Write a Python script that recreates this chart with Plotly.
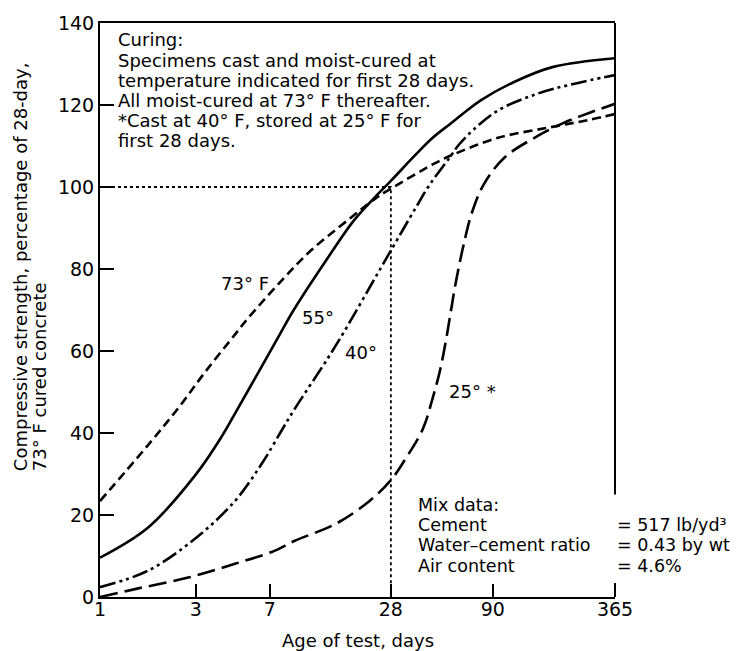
import plotly.graph_objects as go

# ---- data ----
days_73 = [1, 1.73, 2.49, 3.35, 4.69, 5.24, 7.94, 11.2, 17.7, 23.6, 28, 45.2, 54.6, 95.7, 171, 273, 365]
pct_73 = [23.4, 37, 46.5, 55, 64, 67, 77, 84.5, 92.5, 97.3, 99.6, 105.5, 107.5, 112, 114.5, 116.4, 117.8]

days_55 = [1, 1.73, 3, 4.05, 4.84, 6.34, 7.77, 9.2, 13.5, 18.3, 23.1, 28, 37.4, 45.2, 54.6, 65.6, 78.7, 117, 180, 365]
pct_55 = [9.6, 16.9, 29.9, 39.3, 45.9, 56, 63.7, 70, 82.5, 91.8, 97.3, 101.5, 108, 112, 115.2, 118.3, 121.2, 125.8, 129.3, 131.4]

days_40 = [1, 1.73, 3, 4.69, 6.34, 7.94, 9.2, 13.5, 16.3, 23.8, 28, 37.4, 43.6, 54.6, 61, 73, 95.7, 145, 220, 365]
pct_40 = [2.4, 6.4, 14.4, 23.4, 32.3, 40.3, 45.5, 58, 64.5, 78.5, 84.5, 95.1, 100.5, 107, 110.3, 114.2, 118.7, 122.5, 125, 127.3]

days_25 = [1, 1.55, 2.78, 4.69, 7.33, 9.2, 15.1, 22, 28, 33.4, 40.4, 45.2, 49.3, 52.6, 55.6, 58.3, 61.6, 64.5, 70.5, 81.3, 103, 145, 204, 273, 365]
pct_25 = [0, 2.1, 4.8, 8.1, 11.2, 13.6, 18, 23.5, 28.5, 34, 41, 48.5, 55.5, 62.5, 69.5, 75.5, 81.5, 86, 93.4, 100.7, 107.2, 112, 115.7, 118.1, 120.3]

ref_day = 28
ref_pct = 100

x_ticks = [1, 3, 7, 28, 90, 365]
x_ticktext = ["1", "3", "7", "28", "90", "365"]
y_ticks = [0, 20, 40, 60, 80, 100, 120, 140]

FONT = "DejaVu Sans"
W, H = 741, 651
L, R, T, B = 100, 615, 20, 597


def px(x):
    return (x - L) / (R - L)


def py(y):
    return (B - y) / (B - T)


fig = go.Figure()

curves = [
    (days_73, pct_73, "9px,5px"),
    (days_55, pct_55, "solid"),
    (days_40, pct_40, "16px,4px,3px,4px,3px,4px"),
    (days_25, pct_25, "18px,7px"),
]
for xs, ys, dash in curves:
    fig.add_trace(go.Scatter(
        x=xs, y=ys, mode="lines",
        line=dict(color="black", width=2.6, dash=dash, shape="spline", smoothing=1.0),
        hoverinfo="skip", showlegend=False,
    ))

# dotted reference lines at 28 days / 100 %
fig.add_trace(go.Scatter(
    x=[x_ticks[0], ref_day, ref_day], y=[ref_pct, ref_pct, y_ticks[0]], mode="lines",
    line=dict(color="black", width=1.8, dash="3px,3px"),
    hoverinfo="skip", showlegend=False,
))

# right border, interrupted by the mix-data text
shapes = [
    dict(type="line", xref="paper", yref="y", x0=1, x1=1, y0=25, y1=140,
         line=dict(color="black", width=2)),
    dict(type="line", xref="paper", yref="y", x0=1, x1=1, y0=0, y1=3.4,
         line=dict(color="black", width=2)),
]

ann = []


def text(x, y, s, size=18, xanchor="left", yanchor="middle", angle=0):
    ann.append(dict(x=px(x), y=py(y), xref="paper", yref="paper", text=s,
                    showarrow=False, xanchor=xanchor, yanchor=yanchor,
                    textangle=angle, font=dict(family=FONT, size=size, color="black")))


curing = [
    "Curing:",
    "Specimens cast and moist-cured at",
    "temperature indicated for first 28 days.",
    "All moist-cured at 73° F thereafter.",
    "*Cast at 40° F, stored at 25° F for",
    "first 28 days.",
]
cy = [37, 58, 78, 98, 118, 138]
for s, y in zip(curing, cy):
    text(116, y, s)

mix_left = ["Mix data:", "Cement", "Water–cement ratio", "Air content"]
mix_y = [505, 525, 545, 566]
for s, y in zip(mix_left, mix_y):
    text(416, y, s, size=17.5)
mix_right = ["= 517 lb/yd³", "= 0.43 by wt", "= 4.6%"]
for s, y in zip(mix_right, mix_y[1:]):
    text(615, y, s, size=17.5)

text(245, 282, "73° F", xanchor="center")
text(318, 316, "55°", xanchor="center")
text(361, 351, "40°", xanchor="center")
text(472, 390, "25° *", xanchor="center")

# axis titles
text(358, 641, "Age of test, days", size=18, xanchor="center")
text(20, 473, "Compressive strength, percentage of 28-day,", size=18,
     xanchor="center", yanchor="bottom", angle=-90)
text(39, 473, "73° F cured concrete", size=18,
     xanchor="center", yanchor="bottom", angle=-90)

fig.update_layout(
    width=W, height=H,
    margin=dict(l=L, r=W - R, t=T, b=H - B, pad=0),
    paper_bgcolor="white", plot_bgcolor="white",
    font=dict(family=FONT, size=18, color="black"),
    shapes=shapes, annotations=ann, showlegend=False,
    xaxis=dict(type="log", range=[0, 2.5623], tickvals=x_ticks, ticktext=x_ticktext,
               ticks="inside", ticklen=13, tickwidth=2, tickcolor="black",
               showline=True, linewidth=2, linecolor="black", mirror=True,
               showgrid=False, zeroline=False, tickfont=dict(size=19),
               ticklabelstandoff=-6),
    yaxis=dict(range=[0, 140], tickvals=y_ticks,
               ticks="inside", ticklen=14, tickwidth=2, tickcolor="black",
               showline=True, linewidth=2, linecolor="black",
               showgrid=False, zeroline=False, tickfont=dict(size=19)),
)

fig.write_html("out.html")
